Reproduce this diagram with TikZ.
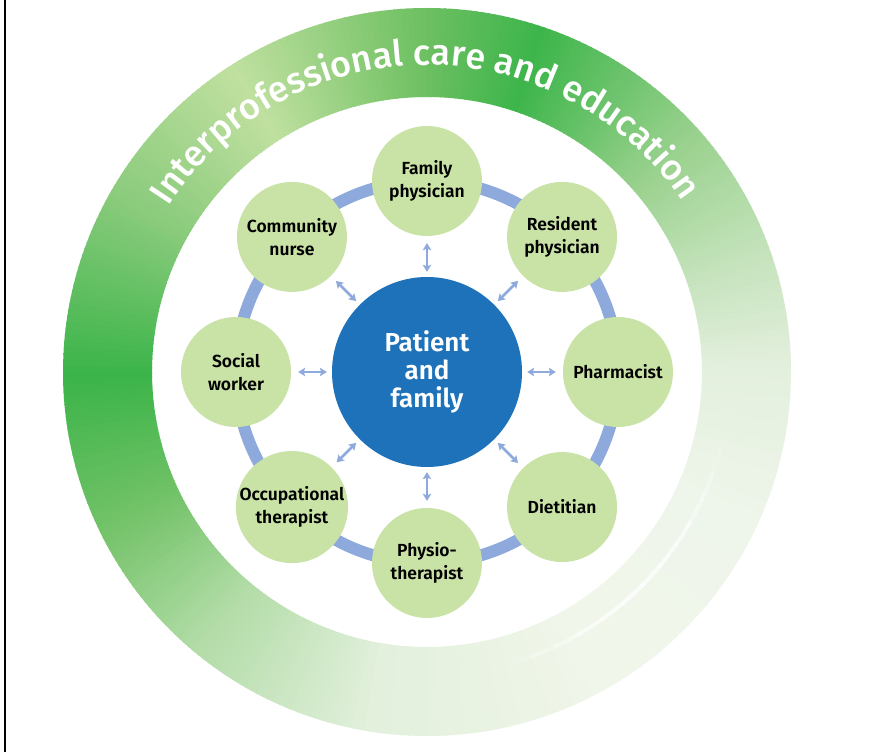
\documentclass[tikz,border=0pt]{standalone}
\usepackage{fontspec}
\setmainfont{Fira Sans}
\newfontfamily\semib{Fira Sans SemiBold}
\newfontfamily\medf{Fira Sans Medium}
\usetikzlibrary{decorations.text,arrows.meta}

\definecolor{nodegreen}{HTML}{C9E2A5}
\definecolor{coreblue}{HTML}{1E72B9}
\definecolor{orbitblue}{HTML}{8EA9DB}
% key colours of the outer band, by angle
\definecolor{k0}{HTML}{E4F0DE}
\definecolor{k1}{HTML}{C3E2BA}
\definecolor{k2}{HTML}{9CD290}
\definecolor{k3}{HTML}{3DB54A}
\definecolor{k4}{HTML}{6EC062}
\definecolor{k5}{HTML}{C0E0A0}
\definecolor{k6}{HTML}{8ACB7C}
\definecolor{k7}{HTML}{3BB449}
\definecolor{k8}{HTML}{72C267}
\definecolor{k9}{HTML}{B3DCA8}
\definecolor{k10}{HTML}{E2F0DC}
\definecolor{k11}{HTML}{F1F6EA}
\definecolor{k12}{HTML}{EEF5EA}

\tikzset{
  member/.style={circle, fill=nodegreen, minimum size=110pt, inner sep=0pt,
    align=center, text=black, font=\semib\fontsize{17.5}{23}\selectfont},
  core/.style={circle, fill=coreblue, minimum size=190pt, inner sep=0pt,
    align=center, text=white, font=\semib\fontsize{26}{28}\selectfont},
  link/.style={orbitblue, line width=2.6pt,
    {Stealth[length=7pt,width=8.5pt,inset=1.5pt]}-{Stealth[length=7pt,width=8.5pt,inset=1.5pt]},
    shorten <=5pt, shorten >=7pt},
}

\begin{document}
\begin{tikzpicture}[x=1pt,y=1pt]
\useasboundingbox (0,0) rectangle (879,752);
\fill[white] (0,0) rectangle (879,752);
\draw[line width=1.2pt] (5,0) -- (5,752);

\begin{scope}[shift={(427,380)}]
  % outer band with an angular colour sweep
  \foreach \a/\b/\ca/\cb in {0/20/k0/k1,20/40/k1/k2,40/71/k2/k3,71/90/k3/k4,
      90/122/k4/k5,122/150/k5/k6,150/180/k6/k7,180/205/k7/k8,205/230/k8/k9,
      230/260/k9/k10,260/300/k10/k11,300/335/k11/k12,335/360/k12/k0}{
    \pgfmathtruncatemacro\last{\b-1}
    \foreach \t in {\a,...,\last}{
      \pgfmathtruncatemacro\pct{100*(\t-\a)/(\b-\a)}
      \colorlet{segc}{\cb!\pct!\ca}
      \fill[segc] (\t:275pt) arc[start angle=\t, end angle=\t+1.3, radius=275pt]
        -- (\t+1.3:364pt) arc[start angle=\t+1.3, end angle=\t, radius=364pt] -- cycle;
    }
  }
  % soft highlight in the lower right of the band
  \foreach \t/\o in {-75/0.15,-70/0.3,-65/0.45,-60/0.6,-55/0.7,-50/0.75,-45/0.75,-40/0.7,-35/0.6,-30/0.45,-25/0.3,-20/0.15}{
    \draw[white, line width=4pt, opacity=\o] (\t:303pt) arc[start angle=\t, end angle=\t+5.5, radius=303pt];
  }
  % band title
  \path[decorate, decoration={text along path, text align=center,
      text={|\medf\fontsize{36}{40}\selectfont\color{white}|Interprofessional care and education}}]
    (150:307pt) arc[start angle=150, end angle=31, radius=307pt];

  % orbit
  \draw[orbitblue, line width=12pt] (0,0) circle[radius=191pt];

  \node[core] (pf) at (0,0) {Patient\\and\\family};
  \node[member] (fam) at (90:191pt) {Family\\physician};
  \node[member] (res) at (45:191pt) {Resident\\physician};
  \node[member] (pha) at (0:191pt) {Pharmacist};
  \node[member] (die) at (-45:191pt) {Dietitian};
  \node[member] (phy) at (-90:191pt) {Physio-\\therapist};
  \node[member] (occ) at (-135:191pt) {Occupational\\therapist};
  \node[member] (soc) at (180:191pt) {Social\\worker};
  \node[member] (com) at (135:191pt) {Community\\nurse};

  \foreach \n in {fam,res,pha,die,phy,occ,soc,com}{
    \draw[link] (pf) -- (\n);
  }
\end{scope}
\end{tikzpicture}
\end{document}
